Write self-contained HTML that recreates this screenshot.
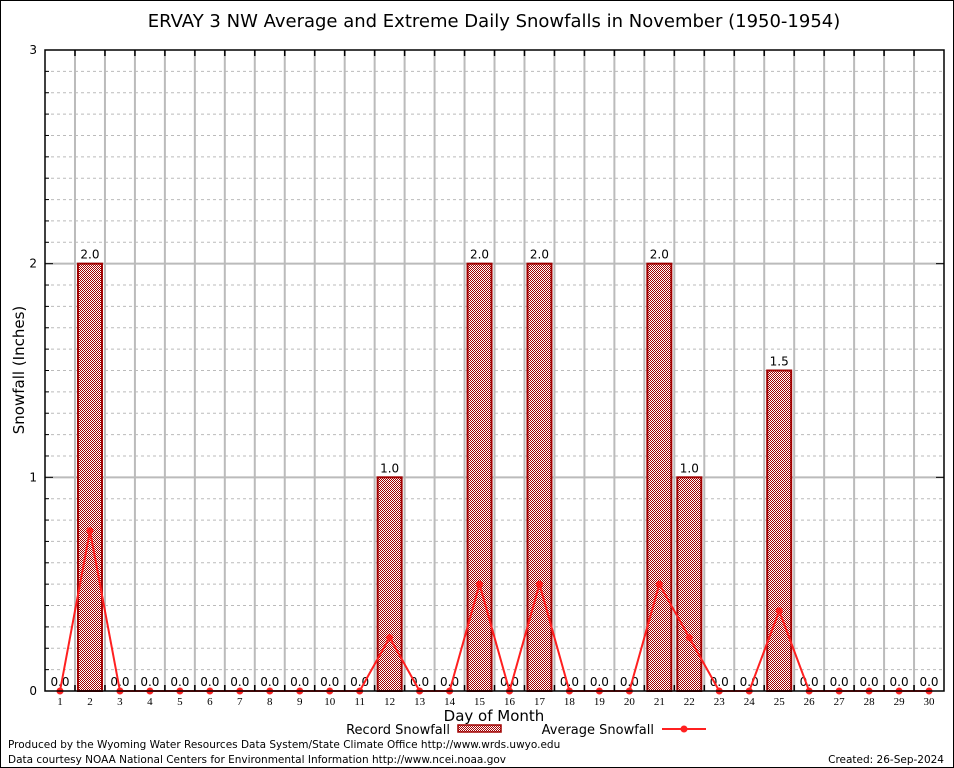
<!DOCTYPE html>
<html><head><meta charset="utf-8"><style>
body{margin:0;background:#fff;}
svg{display:block;font-family:"DejaVu Sans","Liberation Sans",sans-serif;}
</style></head><body>
<svg id="chart" width="954" height="768" viewBox="0 0 954 768">
<defs>
<pattern id="chk" width="2" height="2" patternUnits="userSpaceOnUse">
<rect width="2" height="2" fill="#fff"/><rect width="1" height="1" fill="#a00000"/><rect x="1" y="1" width="1" height="1" fill="#a00000"/>
</pattern>
</defs>
<rect x="0.5" y="0.5" width="953" height="767" fill="#fff" stroke="#000"/>
<text x="494" y="27" font-size="18" text-anchor="middle">ERVAY 3 NW Average and Extreme Daily Snowfalls in November (1950-1954)</text>
<g id="grid"></g>
<g id="bars"></g>
<g id="avg"></g>
<g id="axes"></g>
<text transform="translate(24,370) rotate(-90)" font-size="15" text-anchor="middle">Snowfall (Inches)</text>
<text x="494" y="721" font-size="15" text-anchor="middle">Day of Month</text>
<g>
<text x="450" y="734" font-size="13" text-anchor="end">Record Snowfall</text>
<rect x="458" y="725" width="43" height="7" fill="url(#chk)" stroke="#a00000" stroke-width="1.5"/>
<text x="654" y="734" font-size="13" text-anchor="end">Average Snowfall</text>
<line x1="662" y1="729" x2="706" y2="729" stroke="#ff2020" stroke-width="2"/>
<circle cx="684" cy="729" r="3.5" fill="#ff2020"/>
</g>
<text x="8" y="748" font-size="10.5">Produced by the Wyoming Water Resources Data System/State Climate Office http://www.wrds.uwyo.edu</text>
<text x="8" y="763" font-size="10.5">Data courtesy NOAA National Centers for Environmental Information http://www.ncei.noaa.gov</text>
<text x="944" y="763" font-size="10.5" text-anchor="end">Created: 26-Sep-2024</text>
</svg>
<script>
const days=[1,2,3,4,5,6,7,8,9,10,11,12,13,14,15,16,17,18,19,20,21,22,23,24,25,26,27,28,29,30];
const recordVals=[0,2,0,0,0,0,0,0,0,0,0,1,0,0,2,0,2,0,0,0,2,1,0,0,1.5,0,0,0,0,0];
const avgVals=[0,0.75,0,0,0,0,0,0,0,0,0,0.25,0,0,0.5,0,0.5,0,0,0,0.5,0.25,0,0,0.375,0,0,0,0,0];
const yTicks=[0,1,2,3];
const NS="http://www.w3.org/2000/svg";
const L=45,R=944,T=50,B=691,YMAX=3;
const x=d=>60+(d-1)*(R-L)/30;
const y=v=>B-v*(B-T)/YMAX;
function mk(tag,attrs,parent,txt){const e=document.createElementNS(NS,tag);for(const k in attrs)e.setAttribute(k,attrs[k]);if(txt!==undefined)e.textContent=txt;parent.appendChild(e);return e;}
const grid=document.getElementById('grid'),bars=document.getElementById('bars'),avg=document.getElementById('avg'),axes=document.getElementById('axes');
for(let k=1;k<30;k++){const v=k/10;if(k%10===0)continue;const g=mk('line',{x1:L,x2:R,y1:y(v),y2:y(v),stroke:'#bbb','stroke-dasharray':'3,3'},grid);

const t=mk('line',{x1:L,x2:L+4,y1:y(v),y2:y(v),stroke:'#000'},axes);}
yTicks.forEach(v=>{if(v>0&&v<YMAX){const g=mk('line',{x1:L,x2:R,y1:y(v),y2:y(v),stroke:'#bbb','stroke-width':2},grid);}
const t=mk('text',{x:L-8,y:y(v)+4,'font-size':12,'text-anchor':'end'},axes,String(v));
const tk=mk('line',{x1:L,x2:L+8,y1:y(v),y2:y(v),stroke:'#000'},axes);
const tk2=mk('line',{x1:R-8,x2:R,y1:y(v),y2:y(v),stroke:'#000'},axes);});
for(let i=1;i<30;i++){const xx=x(i)+(R-L)/60;const g=mk('line',{x1:xx,x2:xx,y1:T,y2:B,stroke:'#bbb','stroke-width':2},grid);
const t=mk('line',{x1:xx,x2:xx,y1:T,y2:T+6,stroke:'#000','stroke-width':1.5},axes);
const t2=mk('line',{x1:xx,x2:xx,y1:B-6,y2:B,stroke:'#000','stroke-width':1.5},axes);}
const fr=mk('rect',{x:L,y:T,width:R-L,height:B-T,fill:'none',stroke:'#000','stroke-width':1.5},axes);
days.forEach((d,i)=>{const v=recordVals[i];
if(v>0){const r=mk('rect',{x:x(d)-12,y:y(v),width:24,height:B-y(v),fill:'url(#chk)',stroke:'#a00000','stroke-width':2},bars);}
const lb=mk('text',{x:x(d),y:y(v)-5,'font-size':12,'text-anchor':'middle'},bars,v.toFixed(1));
const xl=mk('text',{x:x(d),y:B+14,'font-size':11,'text-anchor':'middle','font-family':'Liberation Serif,serif'},axes,String(d));});
const pl=mk('polyline',{points:days.map((d,i)=>x(d)+','+y(avgVals[i])).join(' '),fill:'none',stroke:'#ff2020','stroke-width':2},avg);

days.forEach((d,i)=>{const c=mk('circle',{cx:x(d),cy:y(avgVals[i]),r:3.5,fill:'#ff2020'},avg);});
</script>
</body></html>
